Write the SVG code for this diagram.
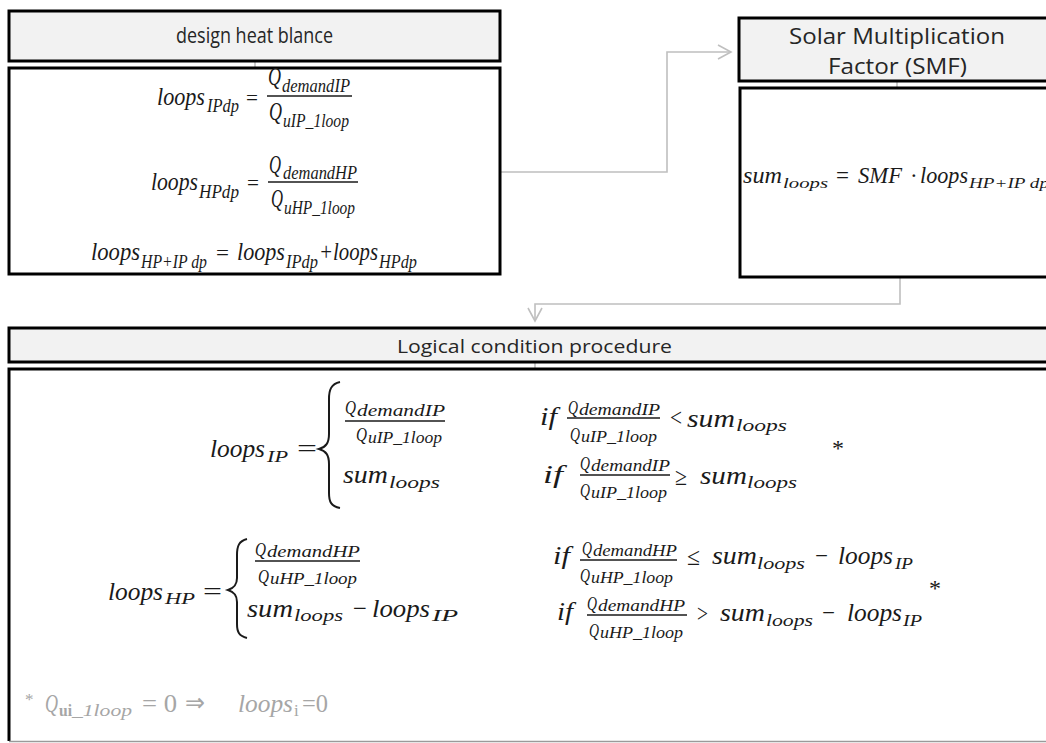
<svg xmlns="http://www.w3.org/2000/svg" width="1046" height="743" viewBox="0 0 1046 743">
<style>
.hdr{fill:#f2f2f2;stroke:#000;stroke-width:3}
.body{fill:#fff;stroke:#000;stroke-width:3}
.t{font-family:"Open Sans","Liberation Sans",sans-serif;fill:#262626}
.m{font-family:"Liberation Serif","Times New Roman",serif;font-style:italic;fill:#1a1a1a}
.u{font-style:normal}
.bar{stroke:#1a1a1a;stroke-width:1.3}
.br{fill:none;stroke:#1a1a1a;stroke-width:2}
.conn{fill:none;stroke:#bfbfbf;stroke-width:1.6}
.fn{fill:#a6a6a6}
</style>
<rect width="1046" height="743" fill="#fff"/>
<g id="connectors">
<path class="conn" d="M500,172 H667 V52 H731"/>
<polyline class="conn" points="718,45 731,52 718,59"/>
<path class="conn" d="M900,278 V304 H535 V321"/>
<polyline class="conn" points="528,308 535,321 542,308"/>
<line class="conn" x1="255" y1="62" x2="255" y2="67"/>
<line class="conn" x1="897" y1="82" x2="897" y2="87"/>
<line class="conn" x1="535" y1="362" x2="535" y2="368"/>
</g>
<g id="n-design">
<rect class="hdr" x="9" y="11" width="491" height="50"/>
<text class="t" x="176" y="43" font-size="21" textLength="157" lengthAdjust="spacingAndGlyphs">design heat blance</text>
<rect class="body" x="9" y="68" width="491" height="206"/>
<text class="m" font-size="25"><tspan x="157" y="105" textLength="48" lengthAdjust="spacingAndGlyphs">loops</tspan><tspan x="207" y="112" font-size="18" textLength="32" lengthAdjust="spacingAndGlyphs">IPdp</tspan><tspan class="u" x="246" y="105" font-size="22" textLength="12" lengthAdjust="spacingAndGlyphs">=</tspan></text>
<line class="bar" x1="267" y1="96" x2="352" y2="96"/>
<text class="m" font-size="25"><tspan x="268" y="85" textLength="13" lengthAdjust="spacingAndGlyphs">Q</tspan><tspan x="282" y="92" font-size="18" textLength="68" lengthAdjust="spacingAndGlyphs">demandIP</tspan></text>
<text class="m" font-size="25"><tspan x="269" y="120" textLength="13" lengthAdjust="spacingAndGlyphs">Q</tspan><tspan x="283" y="127" font-size="18" textLength="66" lengthAdjust="spacingAndGlyphs">uIP_1loop</tspan></text>
<text class="m" font-size="25"><tspan x="151" y="190" textLength="47" lengthAdjust="spacingAndGlyphs">loops</tspan><tspan x="199" y="198" font-size="18" textLength="40" lengthAdjust="spacingAndGlyphs">HPdp</tspan><tspan class="u" x="247" y="190" font-size="22" textLength="12" lengthAdjust="spacingAndGlyphs">=</tspan></text>
<line class="bar" x1="268" y1="182" x2="358" y2="182"/>
<text class="m" font-size="25"><tspan x="269" y="173" textLength="12" lengthAdjust="spacingAndGlyphs">Q</tspan><tspan x="283" y="179" font-size="18" textLength="74" lengthAdjust="spacingAndGlyphs">demandHP</tspan></text>
<text class="m" font-size="25"><tspan x="271" y="207" textLength="12" lengthAdjust="spacingAndGlyphs">Q</tspan><tspan x="284" y="214" font-size="18" textLength="71" lengthAdjust="spacingAndGlyphs">uHP_1loop</tspan></text>
<text class="m" font-size="25"><tspan x="91" y="260" textLength="49" lengthAdjust="spacingAndGlyphs">loops</tspan><tspan x="141" y="268" font-size="18" textLength="66" lengthAdjust="spacingAndGlyphs">HP+IP dp</tspan><tspan class="u" x="216" y="260" font-size="22" textLength="13" lengthAdjust="spacingAndGlyphs">=</tspan><tspan x="237" y="260" textLength="48" lengthAdjust="spacingAndGlyphs">loops</tspan><tspan x="286" y="268" font-size="18" textLength="32" lengthAdjust="spacingAndGlyphs">IPdp</tspan><tspan x="319" y="260" textLength="59" lengthAdjust="spacingAndGlyphs">+loops</tspan><tspan x="379" y="268" font-size="18" textLength="38" lengthAdjust="spacingAndGlyphs">HPdp</tspan></text>
</g>
<g id="n-smf">
<rect class="hdr" x="739" y="18" width="330" height="63"/>
<text class="t" x="789" y="44" font-size="21" textLength="216" lengthAdjust="spacingAndGlyphs">Solar Multiplication</text>
<text class="t" x="828" y="74" font-size="21" textLength="139" lengthAdjust="spacingAndGlyphs">Factor (SMF)</text>
<rect class="body" x="740" y="88" width="330" height="189"/>
<text class="m" font-size="23"><tspan x="743" y="183" textLength="39" lengthAdjust="spacingAndGlyphs">sum</tspan><tspan x="783" y="188" font-size="15" textLength="45" lengthAdjust="spacingAndGlyphs">loops</tspan><tspan class="u" x="836" y="183" textLength="13" lengthAdjust="spacingAndGlyphs">=</tspan><tspan x="858" y="183" textLength="44" lengthAdjust="spacingAndGlyphs">SMF</tspan><tspan class="u" x="910" y="183">·</tspan><tspan x="920" y="183" textLength="48" lengthAdjust="spacingAndGlyphs">loops</tspan><tspan x="969" y="188" font-size="15" textLength="80" lengthAdjust="spacingAndGlyphs">HP+IP dp</tspan></text>
</g>
<g id="n-logic">
<rect class="hdr" x="9" y="328" width="1060" height="34"/>
<text class="t" x="397" y="353" font-size="19" textLength="275" lengthAdjust="spacingAndGlyphs">Logical condition procedure</text>
<path d="M1070,369 H9 V741" fill="none" stroke="#000" stroke-width="3"/>
<line x1="9" y1="741.5" x2="1046" y2="741.5" stroke="#9a9a9a" stroke-width="1.5"/>
<text class="m" font-size="26"><tspan x="210" y="457" textLength="55" lengthAdjust="spacingAndGlyphs">loops</tspan><tspan x="267" y="462" font-size="17" textLength="21" lengthAdjust="spacingAndGlyphs">IP</tspan><tspan class="u" x="297" y="457" textLength="20" lengthAdjust="spacingAndGlyphs">=</tspan></text>
<path class="br" d="M340,382 C331,384 329,390 329,399 L329,434 C329,443 326,447 319,449 C326,451 329,455 329,464 L329,493 C329,502 331,506 340,508"/>
<text class="m" font-size="18"><tspan x="345" y="414" textLength="11" lengthAdjust="spacingAndGlyphs">Q</tspan><tspan x="357" y="416" font-size="16" textLength="88" lengthAdjust="spacingAndGlyphs">demandIP</tspan></text>
<line class="bar" x1="345" y1="421" x2="445" y2="421"/>
<text class="m" font-size="18"><tspan x="356" y="441" textLength="11" lengthAdjust="spacingAndGlyphs">Q</tspan><tspan x="368" y="443" font-size="16" textLength="74" lengthAdjust="spacingAndGlyphs">uIP_1loop</tspan></text>
<text class="m" font-size="26"><tspan x="343" y="483" textLength="45" lengthAdjust="spacingAndGlyphs">sum</tspan><tspan x="389" y="488" font-size="17" textLength="51" lengthAdjust="spacingAndGlyphs">loops</tspan></text>
<text class="m" font-size="25"><tspan x="540" y="425" textLength="17" lengthAdjust="spacingAndGlyphs">if</tspan></text>
<text class="m" font-size="18"><tspan x="568" y="414" textLength="10" lengthAdjust="spacingAndGlyphs">Q</tspan><tspan x="579" y="415" font-size="16" textLength="81" lengthAdjust="spacingAndGlyphs">demandIP</tspan></text>
<line class="bar" x1="567" y1="418" x2="660" y2="418"/>
<text class="m" font-size="18"><tspan x="570" y="441" textLength="10" lengthAdjust="spacingAndGlyphs">Q</tspan><tspan x="581" y="442" font-size="16" textLength="76" lengthAdjust="spacingAndGlyphs">uIP_1loop</tspan></text>
<text class="m" font-size="25"><tspan class="u" x="670" y="426" textLength="12" lengthAdjust="spacingAndGlyphs">&lt;</tspan><tspan x="687" y="427" textLength="48" lengthAdjust="spacingAndGlyphs">sum</tspan><tspan x="736" y="431" font-size="17" textLength="51" lengthAdjust="spacingAndGlyphs">loops</tspan></text>
<text class="m" font-size="25"><tspan x="543" y="483" textLength="20" lengthAdjust="spacingAndGlyphs">if</tspan></text>
<text class="m" font-size="18"><tspan x="580" y="470" textLength="10" lengthAdjust="spacingAndGlyphs">Q</tspan><tspan x="591" y="471" font-size="16" textLength="79" lengthAdjust="spacingAndGlyphs">demandIP</tspan></text>
<line class="bar" x1="580" y1="475" x2="670" y2="475"/>
<text class="m" font-size="18"><tspan x="580" y="497" textLength="10" lengthAdjust="spacingAndGlyphs">Q</tspan><tspan x="591" y="498" font-size="16" textLength="76" lengthAdjust="spacingAndGlyphs">uIP_1loop</tspan></text>
<text class="m" font-size="25"><tspan class="u" x="675" y="485" textLength="12" lengthAdjust="spacingAndGlyphs">≥</tspan><tspan x="700" y="484" textLength="47" lengthAdjust="spacingAndGlyphs">sum</tspan><tspan x="747" y="488" font-size="17" textLength="50" lengthAdjust="spacingAndGlyphs">loops</tspan></text>
<text class="m u" x="838" y="456" font-size="24" text-anchor="middle">*</text>
<text class="m" font-size="26"><tspan x="108" y="600" textLength="55" lengthAdjust="spacingAndGlyphs">loops</tspan><tspan x="165" y="604" font-size="17" textLength="30" lengthAdjust="spacingAndGlyphs">HP</tspan><tspan class="u" x="203" y="600" textLength="19" lengthAdjust="spacingAndGlyphs">=</tspan></text>
<path class="br" d="M247,539 C239,541 237,546 237,555 L237,578 C237,585 234,588 228,590 C234,592 237,595 237,602 L237,624 C237,632 239,636 247,638"/>
<text class="m" font-size="18"><tspan x="255" y="556" textLength="11" lengthAdjust="spacingAndGlyphs">Q</tspan><tspan x="267" y="557" font-size="16" textLength="93" lengthAdjust="spacingAndGlyphs">demandHP</tspan></text>
<line class="bar" x1="255" y1="561" x2="360" y2="561"/>
<text class="m" font-size="18"><tspan x="258" y="583" textLength="11" lengthAdjust="spacingAndGlyphs">Q</tspan><tspan x="270" y="584" font-size="16" textLength="87" lengthAdjust="spacingAndGlyphs">uHP_1loop</tspan></text>
<text class="m" font-size="26"><tspan x="247" y="617" textLength="46" lengthAdjust="spacingAndGlyphs">sum</tspan><tspan x="294" y="621" font-size="17" textLength="49" lengthAdjust="spacingAndGlyphs">loops</tspan><tspan class="u" x="353" y="617" textLength="14" lengthAdjust="spacingAndGlyphs">−</tspan><tspan x="372" y="617" textLength="58" lengthAdjust="spacingAndGlyphs">loops</tspan><tspan x="432" y="621" font-size="17" textLength="26" lengthAdjust="spacingAndGlyphs">IP</tspan></text>
<text class="m" font-size="25"><tspan x="553" y="564" textLength="17" lengthAdjust="spacingAndGlyphs">if</tspan></text>
<text class="m" font-size="18"><tspan x="582" y="555" textLength="10" lengthAdjust="spacingAndGlyphs">Q</tspan><tspan x="593" y="556" font-size="16" textLength="84" lengthAdjust="spacingAndGlyphs">demandHP</tspan></text>
<line class="bar" x1="580" y1="560" x2="677" y2="560"/>
<text class="m" font-size="18"><tspan x="580" y="582" textLength="10" lengthAdjust="spacingAndGlyphs">Q</tspan><tspan x="591" y="583" font-size="16" textLength="82" lengthAdjust="spacingAndGlyphs">uHP_1loop</tspan></text>
<text class="m" font-size="25"><tspan class="u" x="687" y="565" textLength="13" lengthAdjust="spacingAndGlyphs">≤</tspan><tspan x="712" y="564" textLength="45" lengthAdjust="spacingAndGlyphs">sum</tspan><tspan x="757" y="569" font-size="17" textLength="48" lengthAdjust="spacingAndGlyphs">loops</tspan><tspan class="u" x="815" y="564" textLength="13" lengthAdjust="spacingAndGlyphs">−</tspan><tspan x="838" y="564" textLength="55" lengthAdjust="spacingAndGlyphs">loops</tspan><tspan x="895" y="569" font-size="17" textLength="18" lengthAdjust="spacingAndGlyphs">IP</tspan></text>
<text class="m" font-size="25"><tspan x="557" y="620" textLength="16" lengthAdjust="spacingAndGlyphs">if</tspan></text>
<text class="m" font-size="18"><tspan x="587" y="610" textLength="10" lengthAdjust="spacingAndGlyphs">Q</tspan><tspan x="598" y="611" font-size="16" textLength="87" lengthAdjust="spacingAndGlyphs">demandHP</tspan></text>
<line class="bar" x1="587" y1="615" x2="687" y2="615"/>
<text class="m" font-size="18"><tspan x="589" y="637" textLength="10" lengthAdjust="spacingAndGlyphs">Q</tspan><tspan x="600" y="638" font-size="16" textLength="83" lengthAdjust="spacingAndGlyphs">uHP_1loop</tspan></text>
<text class="m" font-size="25"><tspan class="u" x="697" y="622" textLength="11" lengthAdjust="spacingAndGlyphs">&gt;</tspan><tspan x="720" y="621" textLength="45" lengthAdjust="spacingAndGlyphs">sum</tspan><tspan x="766" y="626" font-size="17" textLength="47" lengthAdjust="spacingAndGlyphs">loops</tspan><tspan class="u" x="822" y="621" textLength="13" lengthAdjust="spacingAndGlyphs">−</tspan><tspan x="847" y="621" textLength="55" lengthAdjust="spacingAndGlyphs">loops</tspan><tspan x="903" y="626" font-size="17" textLength="19" lengthAdjust="spacingAndGlyphs">IP</tspan></text>
<text class="m u" x="935" y="596" font-size="24" text-anchor="middle">*</text>
<text class="m fn" font-size="25"><tspan class="u" x="25" y="705" font-size="17">*</tspan><tspan x="45" y="712" textLength="13" lengthAdjust="spacingAndGlyphs">Q</tspan><tspan class="u" x="59" y="716" font-size="17" font-weight="bold" textLength="13" lengthAdjust="spacingAndGlyphs">ui</tspan><tspan x="72" y="716" font-size="17" textLength="60" lengthAdjust="spacingAndGlyphs">_1loop</tspan><tspan class="u" x="142" y="712" textLength="35" lengthAdjust="spacingAndGlyphs">= 0</tspan><tspan class="u" x="185" y="711" textLength="20" lengthAdjust="spacingAndGlyphs">⇒</tspan><tspan x="238" y="712" textLength="55" lengthAdjust="spacingAndGlyphs">loops</tspan><tspan class="u" x="294" y="716" font-size="17">i</tspan><tspan class="u" x="302" y="712" textLength="26" lengthAdjust="spacingAndGlyphs">=0</tspan></text>
</g>
</svg>
